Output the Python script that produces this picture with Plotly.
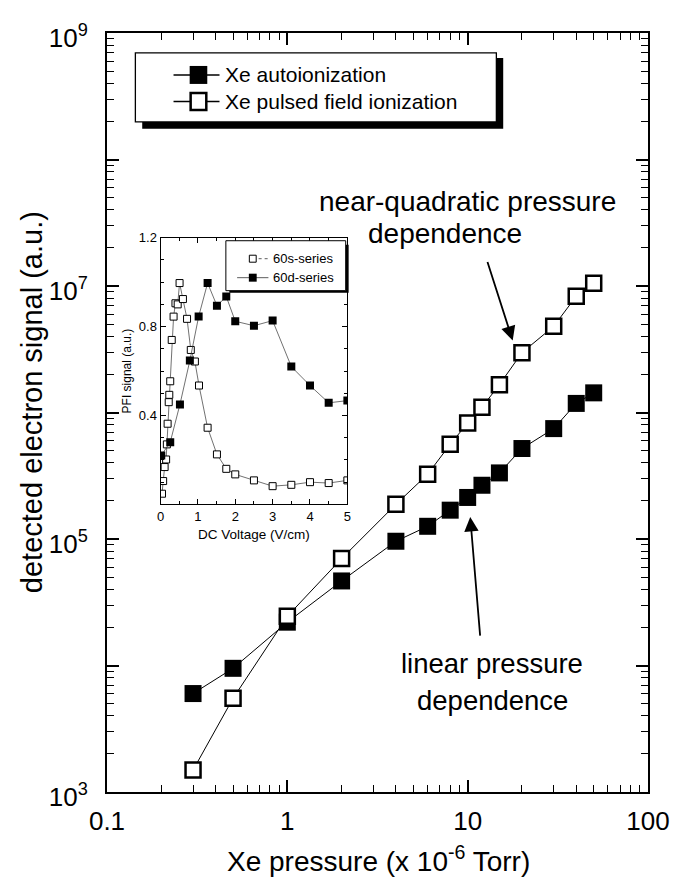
import plotly.graph_objects as go

# ---------------- data ----------------
pressure_auto = [0.3, 0.5, 1, 2, 4, 6, 8, 10, 12, 15, 20, 30, 40, 50]
signal_auto = [6.0e3, 9.5e3, 2.2e4, 4.66e4, 9.6e4, 1.26e5, 1.69e5, 2.13e5, 2.66e5,
               3.33e5, 5.19e5, 7.46e5, 1.18e6, 1.43e6]
pressure_pfi = [0.3, 0.5, 1, 2, 4, 6, 8, 10, 12, 15, 20, 30, 40, 50]
signal_pfi = [1.49e3, 5.5e3, 2.45e4, 7.0e4, 1.88e5, 3.25e5, 5.6e5, 8.26e5, 1.1e6,
              1.66e6, 2.97e6, 4.8e6, 8.3e6, 1.05e7]

dc_60s = [0.04, 0.07, 0.11, 0.15, 0.17, 0.19, 0.22, 0.235, 0.26, 0.30, 0.35, 0.40, 0.46,
          0.51, 0.60, 0.71, 0.81, 0.92, 1.03, 1.26, 1.51, 1.76, 2.0, 2.5, 3.0, 3.5,
          4.0, 4.5, 5.0]
pfi_60s = [0.048, 0.105, 0.168, 0.202, 0.27, 0.363, 0.46, 0.493, 0.554, 0.74, 0.845,
           0.905, 0.90, 0.996, 0.924, 0.835, 0.695, 0.643, 0.535, 0.345, 0.225, 0.16,
           0.135, 0.108, 0.082, 0.088, 0.10, 0.096, 0.108]
dc_60d = [0.02, 0.26, 0.52, 0.785, 1.02, 1.26, 1.51, 1.76, 2.0, 2.5, 3.0, 3.5, 4.0, 4.5, 5.0]
pfi_60d = [0.22, 0.28, 0.45, 0.647, 0.845, 0.996, 0.894, 0.935, 0.824, 0.804, 0.827,
           0.62, 0.535, 0.457, 0.467]

series_names = ["Xe autoionization", "Xe pulsed field ionization"]
inset_names = ["60s-series", "60d-series"]

x_tick_vals = [0.1, 1, 10, 100]
x_tick_text = ["0.1", "1", "10", "100"]
y_tick_vals = [1e3, 1e4, 1e5, 1e6, 1e7, 1e8, 1e9]
y_tick_text = ["10<sup>3</sup>", "", "10<sup>5</sup>", "", "10<sup>7</sup>", "", "10<sup>9</sup>"]

FONT = "Liberation Sans, Arial, Helvetica, sans-serif"
# the page body has an 8 px margin, so the figure starts at (8, 8) on screen
OFF = 8
W, H = 682 - OFF, 880 - OFF
L, R, T, B = 107, 660, 32, 792          # plot frame in screen pixels


def px(xp):
    return (xp - L) / (R - L)


def py(yp):
    return (B - yp) / (B - T)


minor_x = [k * 10 ** e for e in (-1, 0, 1) for k in range(2, 10)]
minor_y = [k * 10 ** e for e in range(3, 9) for k in range(2, 10)]

fig = go.Figure()
fig.add_trace(go.Scatter(
    x=pressure_auto, y=signal_auto, mode="lines+markers", name=series_names[0],
    line=dict(color="black", width=1),
    marker=dict(symbol="square", size=17, color="black", line=dict(width=0))))
fig.add_trace(go.Scatter(
    x=pressure_pfi, y=signal_pfi, mode="lines+markers", name=series_names[1],
    line=dict(color="black", width=1),
    marker=dict(symbol="square", size=15, color="white", line=dict(color="black", width=2.5))))

fig.add_trace(go.Scatter(
    x=dc_60s, y=pfi_60s, mode="lines+markers", name=inset_names[0], xaxis="x2", yaxis="y2",
    line=dict(color="#333", width=0.7),
    marker=dict(symbol="square", size=7, color="white", line=dict(color="black", width=1))))
fig.add_trace(go.Scatter(
    x=dc_60d, y=pfi_60d, mode="lines+markers", name=inset_names[1], xaxis="x2", yaxis="y2",
    line=dict(color="#333", width=0.7),
    marker=dict(symbol="square", size=8, color="black", line=dict(width=0))))

axis_common = dict(showgrid=False, zeroline=False, showline=True, linecolor="black",
                   ticks="inside", tickcolor="black", mirror="allticks")

fig.update_layout(
    width=W, height=H,
    margin=dict(l=L - OFF, r=W - (R - OFF), t=T - OFF, b=H - (B - OFF), pad=0),
    paper_bgcolor="white", plot_bgcolor="white",
    font=dict(family=FONT, color="black"),
    showlegend=False,
    xaxis=dict(type="log", range=[-1, 2], domain=[0, 1], linewidth=2, ticklen=12, tickwidth=1.5,
               tickmode="array", tickvals=x_tick_vals, ticktext=x_tick_text,
               tickfont=dict(size=26), ticklabelstandoff=5,
               minor=dict(tickmode="array", tickvals=minor_x, ticks="inside", ticklen=7,
                          tickwidth=1.2, tickcolor="black"),
               **axis_common),
    yaxis=dict(type="log", range=[3, 9], domain=[0, 1], linewidth=2, ticklen=12, tickwidth=1.5,
               tickmode="array", tickvals=y_tick_vals, ticktext=y_tick_text,
               tickfont=dict(size=26), ticklabelstandoff=12, ticklabelshift=5,
               minor=dict(tickmode="array", tickvals=minor_y, ticks="inside", ticklen=7,
                          tickwidth=1.2, tickcolor="black"),
               **axis_common),
    xaxis2=dict(domain=[px(161.7), px(352.7)], anchor="y2", range=[0, 5], dtick=1, tick0=0,
                linewidth=1, ticklen=5, tickwidth=1, tickfont=dict(size=13),
                minor=dict(dtick=0.5, tick0=0, ticks="inside", ticklen=3, tickcolor="black"),
                title=dict(text="DC Voltage (V/cm)", font=dict(size=13.5), standoff=6),
                **axis_common),
    yaxis2=dict(domain=[py(504), py(237)], anchor="x2", range=[0, 1.2],
                tickmode="array", tickvals=[0.4, 0.8, 1.2], ticktext=["0.4", "0.8", "1.2"],
                linewidth=1, ticklen=5, tickwidth=1, tickfont=dict(size=13),
                minor=dict(tickmode="linear", dtick=0.1, tick0=0, ticks="inside", ticklen=3,
                           tickcolor="black"),
                title=dict(text="PFI signal (a.u.)", font=dict(size=12), standoff=4),
                **axis_common),
)


def rect(x0, y0, x1, y1, fill, lw=0, lc="black"):
    fig.add_shape(type="rect", xref="paper", yref="paper",
                  x0=px(x0), x1=px(x1), y0=py(y1), y1=py(y0),
                  fillcolor=fill, line=dict(width=lw, color=lc), layer="above")


def seg(x0, x1, y, lw=1.5, dash="solid", color="black"):
    fig.add_shape(type="line", xref="paper", yref="paper",
                  x0=px(x0), x1=px(x1), y0=py(y), y1=py(y),
                  line=dict(width=lw, color=color, dash=dash), layer="above")


def label(x, y, text, size):
    fig.add_annotation(xref="paper", yref="paper", x=px(x), y=py(y), text=text,
                       showarrow=False, xanchor="left", yanchor="middle",
                       font=dict(size=size))


# ---- main legend (box with drop shadow) ----
rect(143, 57, 512, 128, "black")
rect(136, 52, 505, 121, "white", lw=1.3)
seg(175, 222, 74)
rect(191.5, 65, 209.5, 83, "black")
label(226, 74, series_names[0], 21)
seg(175, 222, 100.5)
rect(192.5, 92, 208.5, 109, "white", lw=2.5)
label(226, 100.5, series_names[1], 21)

# ---- inset legend ----
rect(232, 244, 354, 292, "black")
rect(228.5, 240, 351, 290, "white", lw=1)
rect(252.5, 254.5, 259.5, 261.5, "white", lw=1)
seg(262, 272, 258, lw=0.8, dash="dot", color="#333")
label(275, 258, inset_names[0], 13)
seg(240, 272, 277, lw=0.8, color="#333")
rect(252, 273, 260, 281, "black")
label(275, 277, inset_names[1], 13)

# axis titles
fig.add_annotation(xref="paper", yref="paper", x=px(385), y=py(859), showarrow=False,
                   text="Xe pressure (x 10<sup>-6</sup> Torr)", font=dict(size=28),
                   xanchor="center", yanchor="middle")
fig.add_annotation(xref="paper", yref="paper", x=px(30), y=py(402), showarrow=False,
                   text="detected electron signal (a.u.)", font=dict(size=29), textangle=-90,
                   xanchor="center", yanchor="middle")

# text annotations
fig.add_annotation(xref="paper", yref="paper", x=px(476), y=py(201), showarrow=False,
                   text="near-quadratic pressure", font=dict(size=28),
                   xanchor="center", yanchor="middle")
fig.add_annotation(xref="paper", yref="paper", x=px(453), y=py(233), showarrow=False,
                   text="dependence", font=dict(size=28), xanchor="center", yanchor="middle")
fig.add_annotation(xref="paper", yref="paper", x=px(501), y=py(663), showarrow=False,
                   text="linear pressure", font=dict(size=27.5), xanchor="center", yanchor="middle")
fig.add_annotation(xref="paper", yref="paper", x=px(501), y=py(700), showarrow=False,
                   text="dependence", font=dict(size=27.5), xanchor="center", yanchor="middle")

# arrows
fig.add_annotation(xref="paper", yref="paper", x=px(521.7), y=py(340), ax=-25.7, ay=-80,
                   text="", showarrow=True, arrowhead=2, arrowsize=1.6, arrowwidth=1.8,
                   arrowcolor="black", standoff=0)
fig.add_annotation(xref="paper", yref="paper", x=px(478.3), y=py(516.7), ax=10, ay=120,
                   text="", showarrow=True, arrowhead=2, arrowsize=1.6, arrowwidth=1.8,
                   arrowcolor="black", standoff=0)

fig.write_html("out.html")
